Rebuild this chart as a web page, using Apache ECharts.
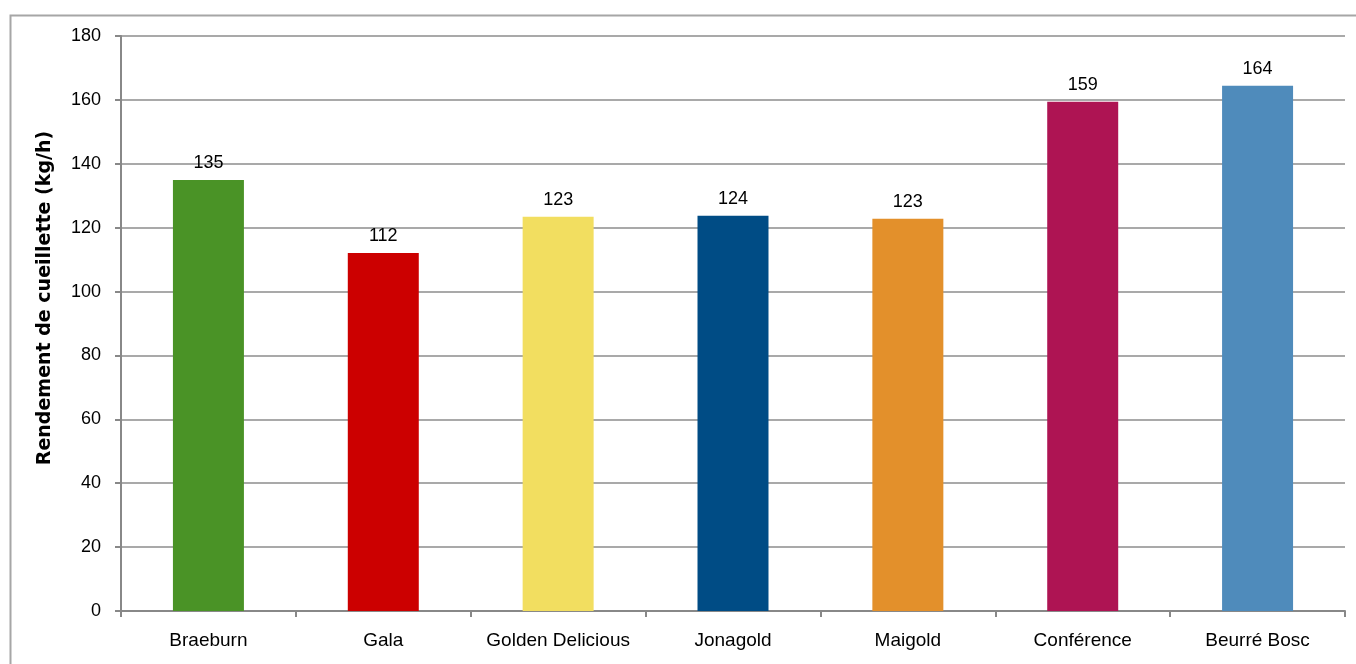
<!DOCTYPE html>
<html>
<head>
<meta charset="utf-8">
<script src="https://cdn.jsdelivr.net/npm/echarts@6/dist/echarts.min.js"></script>
<style>
  html, body { margin: 0; padding: 0; background: #fff; }
  #chart { width: 1356px; height: 664px; }
</style>
</head>
<body>
<div id="chart"></div>
<script>
// données
const varietes = ['Braeburn', 'Gala', 'Golden Delicious', 'Jonagold', 'Maigold', 'Conférence', 'Beurré Bosc']
const rendement = [134.9, 112.1, 123.4, 123.7, 122.8, 159.4, 164.4]
const couleurs = ['#4a9326', '#cc0000', '#f2de60', '#004c85', '#e3902b', '#ae1453', '#4f8bbb']
const yTicks = [0, 20, 40, 60, 80, 100, 120, 140, 160, 180]
const yTitre = 'Rendement de cueillette (kg/h)'

const chart = echarts.init(document.getElementById('chart'))

chart.setOption({
  animation: false,
  textStyle: { fontFamily: 'Liberation Sans, Arial, sans-serif' },
  graphic: [{
    type: 'rect',
    shape: { x: 10.5, y: 15.5, width: 1360, height: 700 },
    style: { fill: 'none', stroke: '#a6a6a6', lineWidth: 2 },
    silent: true
  }, {
    // titre de l'axe vertical (placé comme dans Excel, un peu au-dessus du centre)
    type: 'text',
    x: 45,
    y: 298,
    rotation: Math.PI / 2,
    style: {
      text: yTitre,
      font: 'bold 19px "DejaVu Sans"',
      fill: '#000',
      align: 'center',
      verticalAlign: 'middle'
    },
    silent: true
  }],
  grid: { left: 121, top: 36, right: 11, bottom: 53 },
  xAxis: {
    type: 'category',
    data: varietes,
    axisLine: { lineStyle: { color: '#888', width: 2 } },
    axisTick: { show: true, length: 6, lineStyle: { color: '#888', width: 2 } },
    axisLabel: { color: '#000', fontSize: 19, margin: 20, interval: 0 }
  },
  yAxis: {
    type: 'value',
    min: yTicks[0],
    max: yTicks[yTicks.length - 1],
    interval: 20,
    axisLine: { show: true, lineStyle: { color: '#888', width: 2 } },
    axisTick: { show: true, length: 6, lineStyle: { color: '#888', width: 2 } },
    axisLabel: { color: '#000', fontSize: 18, margin: 20 },
    splitLine: { lineStyle: { color: '#8c8c8c', width: 1.5 } }
  },
  series: [{
    type: 'bar',
    barWidth: '40.6%',
    data: rendement.map((v, i) => ({ value: v, itemStyle: { color: couleurs[i] } })),
    label: {
      show: true,
      position: 'top',
      distance: 8,
      color: '#000',
      fontSize: 18,
      formatter: p => Math.round(p.value)
    }
  }]
})
</script>
</body>
</html>
